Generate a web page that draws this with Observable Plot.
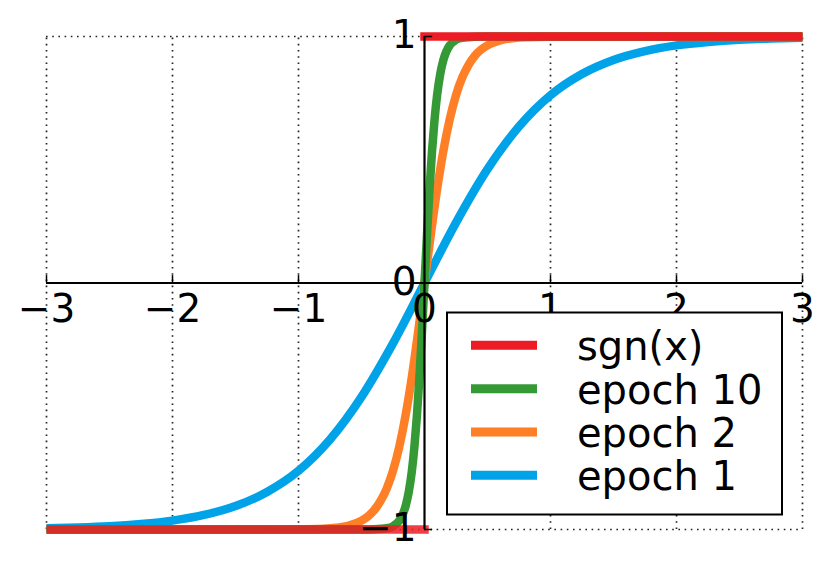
<!DOCTYPE html>
<html>
<head>
<meta charset="utf-8">
<script src="https://cdn.jsdelivr.net/npm/d3@7"></script>
<script src="https://cdn.jsdelivr.net/npm/@observablehq/plot@0.6"></script>
<style>
  html, body { margin: 0; padding: 0; background: white; }
  #chart { position: relative; width: 831px; height: 566px; }
</style>
</head>
<body>
<div id="chart"></div>
<script>
// ---- data ----
const sgnX = [-3, 0, 0, 3];
const sgnY = [-1, -1, 1, 1];

const epoch10X = [-3, -0.5, -0.4, -0.3, -0.25, -0.2, -0.175, -0.15, -0.125, -0.1, -0.08, -0.06, -0.04, -0.02, 0,
                  0.02, 0.04, 0.06, 0.08, 0.1, 0.125, 0.15, 0.175, 0.2, 0.25, 0.3, 0.4, 0.5, 3];
const epoch10Y = [-1, -1, -0.999, -0.995, -0.987, -0.964, -0.941, -0.905, -0.848, -0.762, -0.664, -0.537, -0.380, -0.197, 0,
                  0.197, 0.380, 0.537, 0.664, 0.762, 0.848, 0.905, 0.941, 0.964, 0.987, 0.995, 0.999, 1, 1];

const epoch2X = [-3, -1.5, -1, -0.8, -0.7, -0.6, -0.5, -0.45, -0.4, -0.35, -0.3, -0.25, -0.2, -0.15, -0.1, -0.05, 0,
                 0.05, 0.1, 0.15, 0.2, 0.25, 0.3, 0.35, 0.4, 0.45, 0.5, 0.6, 0.7, 0.8, 1, 1.5, 3];
const epoch2Y = [-1, -1, -0.999, -0.997, -0.993, -0.984, -0.964, -0.947, -0.922, -0.885, -0.834, -0.762, -0.664, -0.537, -0.380, -0.197, 0,
                 0.197, 0.380, 0.537, 0.664, 0.762, 0.834, 0.885, 0.922, 0.947, 0.964, 0.984, 0.993, 0.997, 0.999, 1, 1];

const epoch1X = [-3, -2.75, -2.5, -2.25, -2, -1.75, -1.5, -1.25, -1, -0.75, -0.5, -0.25, 0,
                 0.25, 0.5, 0.75, 1, 1.25, 1.5, 1.75, 2, 2.25, 2.5, 2.75, 3];
const epoch1Y = [-0.995, -0.992, -0.987, -0.978, -0.964, -0.941, -0.905, -0.848, -0.762, -0.635, -0.462, -0.245, 0,
                 0.245, 0.462, 0.635, 0.762, 0.848, 0.905, 0.941, 0.964, 0.978, 0.987, 0.992, 0.995];

const xTicks = [-3, -2, -1, 0, 1, 2, 3];
const xTickLabels = ["\u22123", "\u22122", "\u22121", "0", "1", "2", "3"];
const yTicks = [-1, 0, 1];
const yTickLabels = ["\u22121", "0", "1"];
const gridX = [-3, -2, -1, 1, 2, 3];
const gridY = [-1, 1];

const legendLabels = ["sgn(x)", "epoch 10", "epoch 2", "epoch 1"];
const legendColors = ["#ed1c24", "#359a35", "#ff7f27", "#00a2e8"];

// ---- tables ----
const toRows = (xs, ys) => xs.map((x, i) => ({x, y: ys[i]}));
const sgnRows = toRows(sgnX, sgnY).map(d => ({...d, side: d.y < 0 ? "neg" : "pos"}));
const e10 = toRows(epoch10X, epoch10Y);
const e2 = toRows(epoch2X, epoch2Y);
const e1 = toRows(epoch1X, epoch1Y);

const FONT = "DejaVu Sans";
const FS = 39;
const LFS = 40;
const LW = 8.5;

const svg = Plot.plot({
  width: 831,
  height: 566,
  marginLeft: 46,
  marginRight: 29,
  marginTop: 36,
  marginBottom: 37,
  x: {domain: [-3, 3], axis: null},
  y: {domain: [-1, 1], axis: null},
  style: {fontFamily: FONT, fontSize: FS + "px", background: "white", overflow: "visible"},
  marks: [
    // dotted grid
    Plot.ruleX(gridX, {y1: -1, y2: 1, stroke: "#222", strokeWidth: 1.7, strokeDasharray: "1.6,4.6"}),
    Plot.ruleY(gridY, {x1: -3, x2: 3, stroke: "#222", strokeWidth: 1.7, strokeDasharray: "1.6,4.6"}),
    // curves
    Plot.line(e1, {x: "x", y: "y", stroke: legendColors[3], strokeWidth: LW, strokeLinecap: "butt", curve: "monotone-x"}),
    Plot.line(e2, {x: "x", y: "y", stroke: legendColors[2], strokeWidth: LW, strokeLinecap: "butt", curve: "monotone-x"}),
    Plot.line(e10, {x: "x", y: "y", stroke: legendColors[1], strokeWidth: LW, strokeLinecap: "butt", curve: "monotone-x"}),
    Plot.line(sgnRows, {x: "x", y: "y", z: "side", stroke: legendColors[0], strokeWidth: LW,
      strokeOpacity: d => d.y < 0 ? 0.85 : 1, strokeLinecap: "square"}),
    // spines through the origin
    Plot.ruleY([0], {x1: -3, x2: 3, stroke: "black", strokeWidth: 2.2}),
    Plot.ruleX([0], {y1: -1, y2: 1, stroke: "black", strokeWidth: 2.2}),
    // tick marks (pointing inward)
    Plot.ruleX(xTicks.filter(t => t !== 0), {y1: 0, y2: 0.03, stroke: "black", strokeWidth: 1.5}),
    Plot.ruleY(yTicks.filter(t => t !== 0), {x1: 0, x2: 0.065, stroke: "black", strokeWidth: 1.5}),
    // tick labels
    Plot.text(xTicks, {x: d => d, y: 0, text: (d, i) => xTickLabels[i], lineAnchor: "bottom", dy: 39,
      fontSize: FS, fill: "black"}),
    Plot.text(yTicks, {x: 0, y: d => d, text: (d, i) => yTickLabels[i], lineAnchor: "bottom", textAnchor: "end",
      dx: -8, dy: 11.5, fontSize: FS, fill: "black"})
  ]
});

// clip the sgn line to the horizontal extent of the frame
const s = d3.select(svg);
const clipId = "clip-frame-x";
s.append("defs").append("clipPath").attr("id", clipId)
  .append("rect").attr("x", 46).attr("y", 0).attr("width", 756).attr("height", 566);
const lineGroups = s.selectAll('g[aria-label="line"]').nodes();
d3.select(lineGroups[lineGroups.length - 1]).attr("clip-path", `url(#${clipId})`);

// legend box
const lg = s.append("g").attr("class", "legend").attr("text-anchor", "start");
lg.append("rect")
  .attr("x", 447).attr("y", 312.5).attr("width", 335).attr("height", 202)
  .attr("fill", "white").attr("stroke", "black").attr("stroke-width", 2);
legendLabels.forEach((label, i) => {
  const cy = 345.3 + i * 43.35;
  lg.append("line")
    .attr("x1", 471).attr("x2", 537).attr("y1", cy).attr("y2", cy)
    .attr("stroke", legendColors[i]).attr("stroke-width", 9);
  lg.append("text")
    .attr("x", 577).attr("y", cy + 15)
    .attr("text-anchor", "start")
    .attr("font-family", FONT).attr("font-size", LFS).attr("fill", "black")
    .text(label);
});

document.getElementById("chart").appendChild(svg);
</script>
</body>
</html>
